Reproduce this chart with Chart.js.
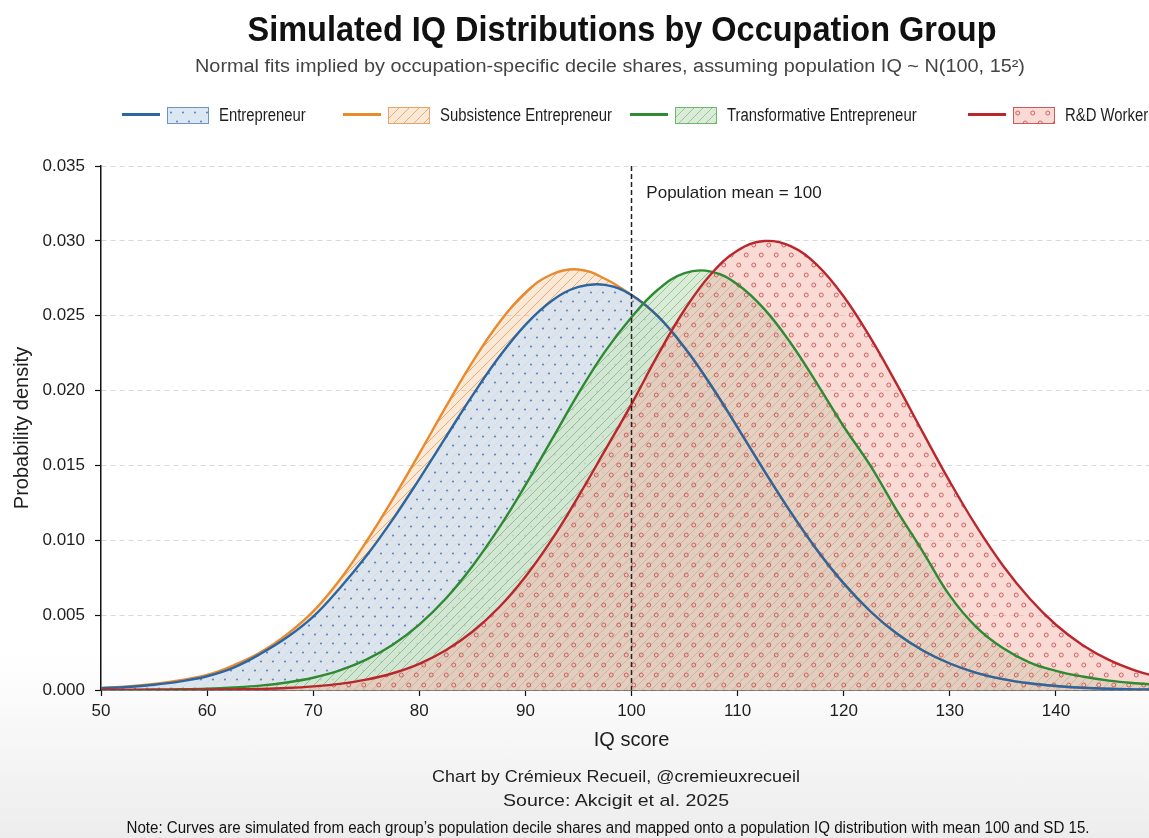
<!DOCTYPE html>
<html>
<head>
<meta charset="utf-8">
<script src="https://cdn.jsdelivr.net/npm/chart.js@4.4.1/dist/chart.umd.min.js"></script>
<style>
  html, body { margin: 0; padding: 0; overflow: hidden; }
  body { width: 1149px; height: 838px; background: linear-gradient(to bottom, #ffffff 0%, #ffffff 78%, #ededed 100%); }
  #wrap { position: relative; width: 1244px; height: 838px; font-family: "Liberation Sans", Arial, sans-serif; color: #1e1e1e; }
  #chart { position: absolute; left: 0; top: 0; }
  .txt { position: absolute; white-space: nowrap; display: inline-block; }
  .narrow { font-family: "Liberation Sans Narrow", "Liberation Sans", sans-serif; }
  .legend-item { position: absolute; top: 104px; height: 22px; }
  .legend-line { position: absolute; top: 9px; width: 38px; height: 3px; }
  .legend-patch { position: absolute; top: 3px; width: 40px; height: 15px; box-sizing: content-box; }
  .legend-label { position: absolute; top: 0; font-family: "Liberation Sans Narrow", "Liberation Sans", sans-serif; font-size: 18px; line-height: 22px; white-space: nowrap; transform-origin: left center; }
</style>
</head>
<body>
<div id="wrap">
  <canvas id="chart" width="1244" height="838"></canvas>
  <div class="txt" id="title" style="left:622px; top:8px; font-size:35px; line-height:42px; font-weight:bold; color:#111;">Simulated IQ Distributions by Occupation Group</div>
  <div class="txt" id="subtitle" style="left:610px; top:55px; font-size:18px; line-height:22px; color:#444;">Normal fits implied by occupation-specific decile shares, assuming population IQ ~ N(100, 15²)</div>
  <div id="legend"></div>
  <div class="txt narrow" id="credit" style="left:616px; top:766px; font-size:17px; line-height:21px; color:#222;">Chart by Crémieux Recueil, @cremieuxrecueil</div>
  <div class="txt narrow" id="source" style="left:616px; top:790px; font-size:17px; line-height:21px; color:#222;">Source: Akcigit et al. 2025</div>
  <div class="txt narrow" id="note" style="left:608px; top:818px; font-size:16px; line-height:19px; color:#111;">Note: Curves are simulated from each group’s population decile shares and mapped onto a population IQ distribution with mean 100 and SD 15.</div>
</div>
<script>
// IQ grid (x values) and density
const iqScores = [50, 52.5, 55, 57.5, 60, 62.5, 65, 67.5, 70, 72.5, 75, 77.5, 80, 82.5, 85, 87.5, 90, 92.5, 95, 97.5,
  100, 102.5, 105, 107.5, 110, 112.5, 115, 117.5, 120, 122.5, 125, 127.5, 130, 132.5, 135, 137.5, 140, 142.5, 145, 147.5, 150];

const entrepreneur = [0.00012, 0.00020, 0.00035, 0.00058, 0.00092, 0.00150, 0.00240, 0.00350, 0.00490, 0.00680,
  0.00895, 0.01140, 0.01409, 0.01689, 0.01966, 0.02222, 0.02439, 0.02600, 0.02692, 0.02706,
  0.02638, 0.02495, 0.02287, 0.02034, 0.01753, 0.01466, 0.01188, 0.00934, 0.00712, 0.00526,
  0.00377, 0.00262, 0.00177, 0.00115, 0.00073, 0.00045, 0.00027, 0.00015, 0.00008, 0.00004, 0.00002];

const subsistence = [0.00013, 0.00023, 0.00040, 0.00066, 0.00100, 0.00165, 0.00250, 0.00370, 0.00525, 0.00735,
  0.00990, 0.01275, 0.01579, 0.01891, 0.02190, 0.02452, 0.02654, 0.02777, 0.02809, 0.02747,
  0.02638, 0.02495, 0.02287, 0.02034, 0.01753, 0.01466, 0.01188, 0.00934, 0.00712, 0.00526,
  0.00377, 0.00262, 0.00177, 0.00115, 0.00073, 0.00045, 0.00027, 0.00015, 0.00008, 0.00004, 0.00002];

const transformative = [0.00001, 0.00001, 0.00003, 0.00005, 0.00009, 0.00017, 0.00029, 0.00050, 0.00082, 0.00131,
  0.00203, 0.00303, 0.00437, 0.00611, 0.00827, 0.01081, 0.01368, 0.01674, 0.01981, 0.02260,
  0.02490, 0.02675, 0.02785, 0.02795, 0.02709, 0.02546, 0.02318, 0.02045, 0.01760, 0.01500,
  0.01200, 0.00920, 0.00630, 0.00420, 0.00280, 0.00185, 0.00128, 0.00090, 0.00063, 0.00045, 0.00032];

const rdWorker = [0.00000, 0.00000, 0.00000, 0.00001, 0.00002, 0.00004, 0.00007, 0.00013, 0.00024, 0.00041,
  0.00069, 0.00112, 0.00175, 0.00265, 0.00389, 0.00551, 0.00757, 0.01006, 0.01294, 0.01600,
  0.01910, 0.02240, 0.02540, 0.02779, 0.02935, 0.02999, 0.02965, 0.02838, 0.02628, 0.02355,
  0.02043, 0.01714, 0.01392, 0.01094, 0.00832, 0.00613, 0.00436, 0.00301, 0.00201, 0.00130, 0.00081];

const groupNames = ['Entrepreneur', 'Subsistence Entrepreneur', 'Transformative Entrepreneur', 'R&D Worker'];
const lineColors = ['#2b66a3', '#e98a2e', '#2f8a34', '#b9272c'];

const populationMean = 100;
const meanLabel = 'Population mean = 100';
const yTicks = [0, 0.005, 0.010, 0.015, 0.020, 0.025, 0.030, 0.035];

// ---- fill patterns ----
function makeTile(w, h, base, draw) {
  const c = document.createElement('canvas');
  c.width = w; c.height = h;
  const g = c.getContext('2d');
  g.fillStyle = base;
  g.fillRect(0, 0, w, h);
  draw(g, w, h);
  return c;
}

function hatch(stroke, width) {
  return (g, w, h) => {
    g.strokeStyle = stroke;
    g.lineWidth = width;
    for (let k = -w; k <= w; k += w) {
      g.beginPath();
      g.moveTo(k, h);
      g.lineTo(k + w, 0);
      g.stroke();
    }
  };
}

const tiles = [
  makeTile(12, 18, 'rgba(214,227,242,0.85)', (g) => {
    g.fillStyle = 'rgba(60,105,170,0.75)';
    [[3, 4.5], [9, 13.5]].forEach(p => { g.beginPath(); g.arc(p[0], p[1], 1.1, 0, Math.PI * 2); g.fill(); });
  }),
  makeTile(10, 10, 'rgba(240,175,110,0.28)', hatch('rgba(225,130,50,0.6)', 1)),
  makeTile(9, 9, 'rgba(209,231,206,0.8)', hatch('rgba(80,160,80,0.5)', 1)),
  makeTile(15, 20, 'rgba(245,182,172,0.5)', (g) => {
    g.strokeStyle = 'rgba(200,70,70,0.8)';
    g.lineWidth = 1;
    [[3.75, 5], [11.25, 15]].forEach(p => { g.beginPath(); g.arc(p[0], p[1], 2, 0, Math.PI * 2); g.stroke(); });
  })
];

const canvas = document.getElementById('chart');
const ctx = canvas.getContext('2d');
const patterns = tiles.map(t => ctx.createPattern(t, 'repeat'));

const seriesValues = [entrepreneur, subsistence, transformative, rdWorker];

const makeDataset = (i) => ({
  label: groupNames[i],
  data: iqScores.map((x, j) => ({ x: x, y: seriesValues[i][j] })),
  borderColor: lineColors[i],
  borderWidth: 2.4,
  backgroundColor: patterns[i],
  fill: 'origin',
  pointRadius: 0,
  tension: 0.4
});

// first dataset is painted last, so red sits on top and orange at the bottom
const datasets = [makeDataset(3), makeDataset(2), makeDataset(0), makeDataset(1)];

const meanLinePlugin = {
  id: 'meanLine',
  afterDatasetsDraw(chart) {
    const { ctx, chartArea, scales } = chart;
    const px = scales.x.getPixelForValue(populationMean);
    ctx.save();
    ctx.strokeStyle = '#222';
    ctx.lineWidth = 1.5;
    ctx.setLineDash([5, 3]);
    ctx.beginPath();
    ctx.moveTo(px, chartArea.top);
    ctx.lineTo(px, chartArea.bottom);
    ctx.stroke();
    ctx.setLineDash([]);
    ctx.fillStyle = '#1e1e1e';
    ctx.font = '17px "Liberation Sans", Arial, sans-serif';
    ctx.textBaseline = 'middle';
    ctx.fillText(meanLabel, scales.x.getPixelForValue(101.4), scales.y.getPixelForValue(0.0332));
    ctx.restore();
  }
};

Chart.defaults.font.family = '"Liberation Sans", Arial, sans-serif';
Chart.defaults.color = '#1e1e1e';

const chart = new Chart(ctx, {
  type: 'line',
  data: { datasets },
  options: {
    responsive: false,
    animation: false,
    layout: { padding: { top: 166, left: 0, right: 82, bottom: 86 } },
    plugins: {
      legend: { display: false },
      tooltip: { enabled: false },
      filler: { drawTime: 'beforeDatasetsDraw', propagate: false }
    },
    scales: {
      x: {
        type: 'linear',
        min: 50,
        max: 150,
        afterFit: (s) => { s.height = 62; },
        ticks: { stepSize: 10, padding: 5, font: { size: 17 }, color: '#1e1e1e' },
        grid: { drawOnChartArea: false, tickLength: 6, tickColor: '#111', tickWidth: 1.2 },
        border: { color: '#111', width: 1.5 },
        title: { display: true, text: 'IQ score', font: { size: 20 }, padding: { top: 0, bottom: 0 }, color: '#1e1e1e' }
      },
      y: {
        type: 'linear',
        min: 0,
        max: 0.035,
        afterFit: (s) => { s.width = 101; },
        afterBuildTicks: (s) => { s.ticks = yTicks.map(v => ({ value: v })); },
        ticks: { padding: 10, font: { size: 17 }, color: '#1e1e1e', callback: (v) => Number(v).toFixed(3) },
        grid: { color: '#d9d9d9', lineWidth: 1, tickLength: 6, tickColor: '#111', tickWidth: 1.2, tickBorderDash: [] },
        border: { color: '#111', width: 1.5, dash: [5, 4] },
        title: { display: true, text: 'Probability density', font: { size: 20 }, padding: { top: 10, bottom: 0 }, color: '#1e1e1e' }
      }
    }
  },
  plugins: [meanLinePlugin]
});

// ---- legend (HTML, real text) ----
const legendStarts = [122, 343, 630, 968];
const borderColors = ['#6b93c4', '#eba468', '#6cb56c', '#d0585c'];
const legend = document.getElementById('legend');
const labels = [];
[0, 1, 2, 3].forEach(i => {
  const item = document.createElement('div');
  item.className = 'legend-item';
  item.style.left = legendStarts[i] + 'px';
  const line = document.createElement('div');
  line.className = 'legend-line';
  line.style.left = '0px';
  line.style.background = lineColors[i];
  const patch = document.createElement('div');
  patch.className = 'legend-patch';
  patch.style.left = '45px';
  patch.style.border = '1px solid ' + borderColors[i];
  patch.style.backgroundImage = 'url(' + tiles[i].toDataURL() + ')';
  const label = document.createElement('div');
  label.className = 'legend-label';
  label.style.left = '97px';
  label.textContent = groupNames[i];
  item.appendChild(line);
  item.appendChild(patch);
  item.appendChild(label);
  legend.appendChild(item);
  labels.push(label);
});
// squeeze legend text to the reference width (Subsistence label ~172px)
const legendScale = 172 / labels[1].getBoundingClientRect().width;
labels.forEach(l => { l.style.transform = 'scaleX(' + legendScale + ')'; });

// fit centered texts to the widths seen in the reference
function fitCentered(id, target) {
  const el = document.getElementById(id);
  const w = el.getBoundingClientRect().width;
  el.style.transform = 'translateX(-50%) scaleX(' + (target / w) + ')';
}
fitCentered('title', 749);
fitCentered('subtitle', 830);
fitCentered('credit', 368);
fitCentered('source', 226);
fitCentered('note', 963);
</script>
</body>
</html>
